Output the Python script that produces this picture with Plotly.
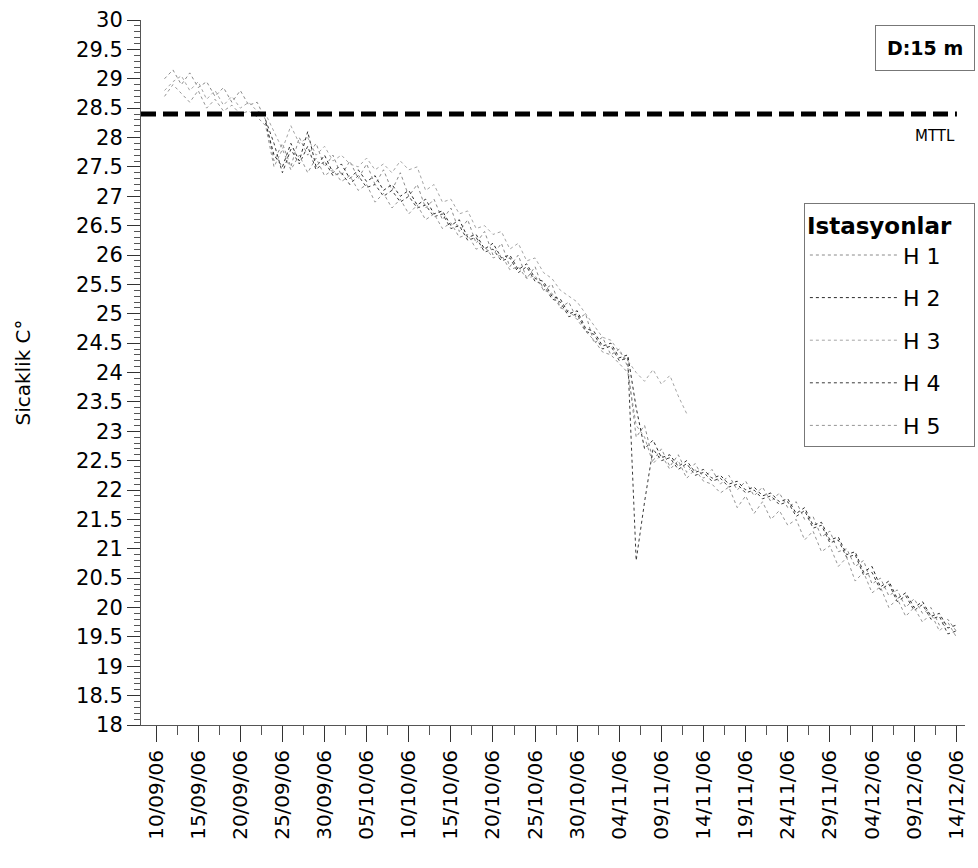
import plotly.graph_objects as go
import pandas as pd

# ---- data (daily readings) ----
SERIES_NAMES = ["H 1", "H 2", "H 3", "H 4", "H 5"]
SERIES_START = ["2006-09-11", "2006-09-23", "2006-09-11", "2006-09-23", "2006-09-11"]

H1 = [29.0, 29.15, 28.9, 29.1, 28.85, 28.95, 28.7, 28.85, 28.6, 28.8, 28.55, 28.6,
      28.3, 27.6, 27.9, 27.5, 28.0, 27.7, 27.9, 27.5,
      27.7, 27.35, 27.6, 27.3, 27.55, 27.2, 27.45, 27.1, 27.4, 27.0,
      27.2, 26.8, 26.95, 26.6, 26.8, 26.4, 26.6, 26.2, 26.4, 26.0,
      26.2, 25.8, 26.0, 25.6, 25.8, 25.4, 25.5, 25.1, 25.2, 24.9,
      25.0, 24.5, 24.6, 24.3, 24.4, 24.1,
      22.9, 23.1, 22.5, 22.7, 22.4, 22.6, 22.3, 22.45, 22.2,
      22.35, 22.1, 22.25, 22.0, 22.15, 21.9, 22.05, 21.8, 21.95, 21.7,
      21.8, 21.5, 21.55, 21.2, 21.3, 20.95, 21.0, 20.7, 20.8, 20.4,
      20.5, 20.2, 20.3, 20.0, 20.15, 19.9, 20.0, 19.7, 19.8, 19.6]

H2 = [28.25, 27.7, 27.5, 27.9, 27.6, 28.1, 27.5, 27.7,
      27.4, 27.55, 27.3, 27.45, 27.25, 27.35, 27.1, 27.2, 27.0, 27.1,
      26.85, 26.95, 26.7, 26.75, 26.5, 26.6, 26.3, 26.35, 26.1, 26.2,
      25.95, 26.0, 25.75, 25.85, 25.6, 25.55, 25.3, 25.25, 25.0, 25.05,
      24.75, 24.7, 24.45, 24.5, 24.25, 24.3,
      23.4, 22.7, 22.85, 22.55, 22.6, 22.4, 22.5, 22.3, 22.35,
      22.2, 22.25, 22.1, 22.15, 22.0, 22.05, 21.9, 21.95, 21.8, 21.85,
      21.6, 21.7, 21.4, 21.45, 21.15, 21.2, 20.9, 20.95, 20.6, 20.7,
      20.35, 20.45, 20.15, 20.25, 20.0, 20.1, 19.85, 19.9, 19.65, 19.7]

H3 = [28.8, 28.95, 29.05, 28.8, 28.95, 28.65, 28.8, 28.55, 28.7, 28.5, 28.6, 28.45,
      28.4, 28.1, 27.8, 28.2, 27.9, 28.0, 27.7, 27.85,
      27.6, 27.7, 27.55, 27.5, 27.65, 27.45, 27.55, 27.4, 27.6, 27.45,
      27.5, 27.1, 27.2, 26.9, 26.95, 26.7, 26.75, 26.45, 26.5, 26.35,
      26.4, 26.1, 26.2, 25.9, 25.95, 25.7, 25.6, 25.4, 25.3, 25.2,
      25.0, 24.8, 24.6, 24.55, 24.35, 24.2,
      24.0, 23.85, 24.05, 23.8, 23.95, 23.6, 23.3]

H4 = [28.3, 27.9, 27.4, 27.8, 27.55, 27.85, 27.45, 27.6,
      27.35, 27.4, 27.2, 27.35, 27.15, 27.2, 27.0, 27.1, 26.9, 27.0,
      26.8, 26.85, 26.65, 26.7, 26.45, 26.5, 26.25, 26.3, 26.05, 26.1,
      25.9, 25.95, 25.7, 25.8, 25.55, 25.5, 25.25, 25.2, 24.95, 25.0,
      24.7, 24.65, 24.4, 24.45, 24.2, 24.25,
      20.8, 21.8, 22.7, 22.5, 22.55, 22.35, 22.45, 22.25, 22.3,
      22.15, 22.2, 22.05, 22.1, 21.95, 22.0, 21.85, 21.9, 21.75, 21.8,
      21.55, 21.65, 21.35, 21.4, 21.1, 21.15, 20.85, 20.9, 20.55, 20.6,
      20.3, 20.4, 20.1, 20.2, 19.95, 20.05, 19.8, 19.85, 19.55, 19.6]

H5 = [28.7, 28.9, 28.75, 28.6, 28.8, 28.5, 28.65, 28.45, 28.55, 28.4, 28.45, 28.35,
      28.2, 27.5, 27.8, 27.45, 27.7, 27.4, 27.65, 27.35,
      27.45, 27.25, 27.35, 27.1, 27.2, 26.9, 27.05, 26.8, 26.95, 26.7,
      26.85, 26.6, 26.7, 26.45, 26.55, 26.3, 26.35, 26.1, 26.15, 25.95,
      26.0, 25.75, 25.8, 25.6, 25.65, 25.4, 25.35, 25.1, 25.05, 24.9,
      24.7, 24.55, 24.35, 24.3, 24.15, 24.0,
      23.1, 22.9, 22.45, 22.6, 22.35, 22.5, 22.2, 22.35, 22.15,
      22.1, 21.95, 22.05, 21.7, 21.9, 21.6, 21.8, 21.5, 21.65, 21.4,
      21.5, 21.15, 21.3, 20.95, 21.05, 20.7, 20.85, 20.45, 20.6, 20.25,
      20.35, 20.0, 20.15, 19.85, 20.0, 19.75, 19.9, 19.6, 19.75, 19.5]

SERIES_VALUES = [H1, H2, H3, H4, H5]

MTTL_VALUE = 28.4
MTTL_SPAN = ["2006-09-08 05:00", "2006-12-14 02:00"]

# ---- styles ----
COLORS = ["#8a8a8a", "#2a2a2a", "#a5a5a5", "#3a3a3a", "#959595"]
DASHES = ["dot", "dot", "dot", "dot", "dot"]
FONT = "DejaVu Sans"
PAD = "\u00a0" * 4

fig = go.Figure()

for i, (name, start, vals) in enumerate(zip(SERIES_NAMES, SERIES_START, SERIES_VALUES)):
    x = pd.date_range(start, periods=len(vals), freq="D")
    fig.add_trace(go.Scatter(
        x=x, y=vals, name=name + PAD, mode="lines",
        line=dict(color=COLORS[i], width=1, dash=DASHES[i]),
        legendgroup=name,
    ))

fig.add_trace(go.Scatter(
    x=MTTL_SPAN, y=[MTTL_VALUE, MTTL_VALUE], mode="lines", showlegend=False,
    line=dict(color="black", width=5, dash="15px,7px"),
))

DAY = 86400000
fig.update_xaxes(
    type="date",
    range=["2006-09-08 05:00", "2006-12-15 01:00"],
    tick0="2006-09-10", dtick=5 * DAY, tickformat="%d/%m/%y",
    tickangle=-90, ticks="outside", ticklen=16, tickcolor="#333",
    minor=dict(tick0="2006-09-10", dtick=2.5 * DAY, ticks="outside", ticklen=9, tickcolor="#555"),
    showline=True, linecolor="#555", linewidth=1,
    showgrid=False, zeroline=False,
    tickfont=dict(family=FONT, size=20, color="black"),
)
fig.update_yaxes(
    range=[18, 30], dtick=0.5, tick0=18,
    ticks="outside", ticklen=13, tickcolor="#333",
    minor=dict(dtick=0.1, ticks="outside", ticklen=6, tickcolor="#555"),
    showline=True, linecolor="#555", linewidth=1,
    showgrid=False, zeroline=False,
    tickfont=dict(family=FONT, size=21, color="black"),
    title=dict(text="Sicaklik C°", font=dict(family=FONT, size=20, color="black"), standoff=40),
)

fig.add_annotation(
    text="<b>D:15 m</b>", xref="paper", yref="paper", x=1.012, y=0.993,
    xanchor="right", yanchor="top", showarrow=False,
    font=dict(family=FONT, size=19, color="black"),
    bordercolor="#777", borderwidth=1, borderpad=11, bgcolor="white",
)
fig.add_annotation(
    text="MTTL", xref="paper", yref="y", x=0.99, y=28.03,
    xanchor="right", yanchor="middle", showarrow=False,
    font=dict(family=FONT, size=15, color="black"),
)

fig.update_layout(
    width=978, height=868,
    margin=dict(l=141, r=13, t=20, b=143, autoexpand=False),
    paper_bgcolor="white", plot_bgcolor="white",
    font=dict(family=FONT, color="black"),
    legend=dict(
        title=dict(text="<b>Istasyonlar</b>", font=dict(family=FONT, size=23)),
        font=dict(family=FONT, size=22),
        x=1.012, xanchor="right", y=0.74, yanchor="top",
        bordercolor="#777", borderwidth=1, bgcolor="white",
        itemwidth=88, tracegroupgap=11,
    ),
)

fig.write_html("out.html")
